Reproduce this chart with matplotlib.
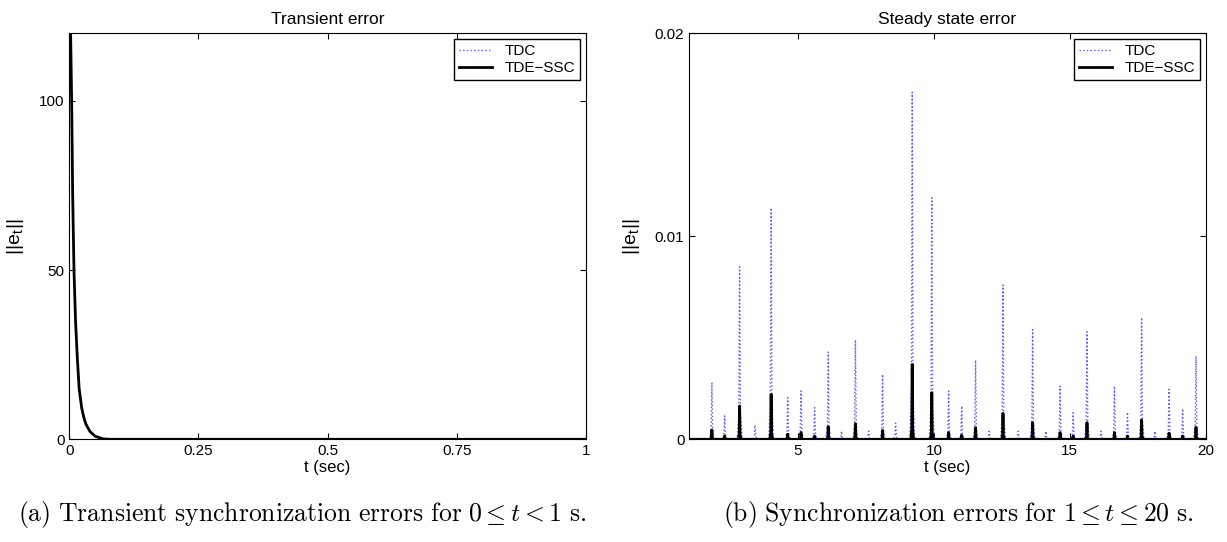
import numpy as np
import matplotlib.pyplot as plt

plt.rcParams['font.family'] = ['Liberation Sans', 'DejaVu Sans']
plt.rcParams['mathtext.fontset'] = 'cm'

# transient error (0 <= t < 1)
t_tr = [0, 0.0025, 0.0045, 0.0065, 0.009, 0.012, 0.0155, 0.019, 0.024, 0.028,
        0.032, 0.04, 0.05, 0.066, 0.08, 1.0]
e_tr = [135, 120, 100, 72, 50, 35, 24, 15, 9.2, 6.5, 4.5, 2.3, 0.9, 0.1, 0, 0]

# steady state error peaks (1 <= t <= 20)
tdc_t = [1.83, 2.30, 2.85, 3.42, 4.01, 4.62, 5.11, 5.61, 6.11, 6.60, 7.11, 7.60,
         8.11, 8.59, 9.20, 9.92, 10.54, 11.02, 11.53, 12.03, 12.54, 13.10, 13.63,
         14.12, 14.64, 15.12, 15.63, 16.15, 16.64, 17.12, 17.64, 18.13, 18.65,
         19.15, 19.64]
tdc_e = [0.0028, 0.00115, 0.0085, 0.0007, 0.0114, 0.00205, 0.00238, 0.00156,
         0.0043, 0.0004, 0.0049, 0.0004, 0.0032, 0.0008, 0.0171, 0.0119, 0.00238,
         0.00164, 0.0039, 0.0004, 0.0076, 0.0004, 0.0054, 0.0004, 0.00262,
         0.00131, 0.0053, 0.0004, 0.00262, 0.00134, 0.0060, 0.0004, 0.00246,
         0.00151, 0.0041]
ssc_t = [1.83, 2.30, 2.85, 4.01, 4.62, 5.11, 5.61, 6.11, 7.11, 8.11, 9.20, 9.92,
         10.54, 11.02, 11.53, 12.54, 13.63, 14.64, 15.12, 15.63, 16.64, 17.12,
         17.64, 18.65, 19.15, 19.64]
ssc_e = [0.00046, 0.00016, 0.00164, 0.00221, 0.00025, 0.00033, 0.00016, 0.00062,
         0.00077, 0.00044, 0.00369, 0.0023, 0.00033, 0.0002, 0.00057, 0.00128,
         0.00082, 0.00033, 0.00016, 0.00082, 0.00033, 0.00016, 0.00095, 0.0003,
         0.00016, 0.00059]


def spikes(ts, es, w):
    xs, ys = [1.0], [0.0]
    for t, e in zip(ts, es):
        xs += [t - w, t - w / 3, t, t + w / 3, t + w]
        ys += [0, e * 0.15, e, e * 0.15, 0]
    xs.append(20.0)
    ys.append(0.0)
    return xs, ys


fig = plt.figure(figsize=(12.27, 5.42), dpi=100)
ax1 = fig.add_axes([0.0565, 0.1895, 0.4209, 0.749])
ax2 = fig.add_axes([0.5618, 0.1895, 0.4209, 0.749])

blue = '#5a5aff'

ax1.plot(t_tr, e_tr, ':', color=blue, lw=1, label='TDC')
ax1.plot(t_tr, e_tr, '-', color='black', lw=2, label='TDE\u2212SSC')
ax1.set_xlim(0, 1)
ax1.set_ylim(0, 120)
ax1.set_xticks([0, 0.25, 0.5, 0.75, 1])
ax1.set_xticklabels(['0', '0.25', '0.5', '0.75', '1'])
ax1.set_yticks([0, 50, 100])
ax1.set_title('Transient error', fontsize=12.5, pad=7)

xb, yb = spikes(tdc_t, tdc_e, 0.09)
xs, ys = spikes(ssc_t, ssc_e, 0.05)
ax2.plot(xb, yb, ':', color=blue, lw=1, label='TDC')
ax2.plot(xs, ys, '-', color='black', lw=2, label='TDE\u2212SSC')
ax2.set_xlim(1, 20)
ax2.set_ylim(0, 0.02)
ax2.set_xticks([5, 10, 15, 20])
ax2.set_yticks([0, 0.01, 0.02])
ax2.set_yticklabels(['0', '0.01', '0.02'])
ax2.set_title('Steady state error', fontsize=12.5, pad=7)

for ax in (ax1, ax2):
    ax.tick_params(direction='in', top=True, right=True, labelsize=11, length=4)
    ax.set_xlabel('t (sec)', fontsize=12, labelpad=1)
    ax.set_ylabel(r'||e$_{\mathregular{t}}$||', fontsize=14, labelpad=9)
    leg = ax.legend(loc='upper right', fontsize=11, fancybox=False,
                    edgecolor='black', framealpha=1, handlelength=2.2,
                    borderaxespad=0.4, labelspacing=0.2, borderpad=0.3)
    leg.get_frame().set_linewidth(1)

fig.text(0.246, 0.05,
         r'$\mathrm{(a)\ Transient\ synchronization\ errors\ for\ }0 \leq t < 1\mathrm{\ s.}$',
         ha='center', va='center', fontsize=18.5)
fig.text(0.781, 0.05,
         r'$\mathrm{(b)\ Synchronization\ errors\ for\ }1 \leq t \leq 20\mathrm{\ s.}$',
         ha='center', va='center', fontsize=18.5)

fig.savefig('out.png', dpi=100)
